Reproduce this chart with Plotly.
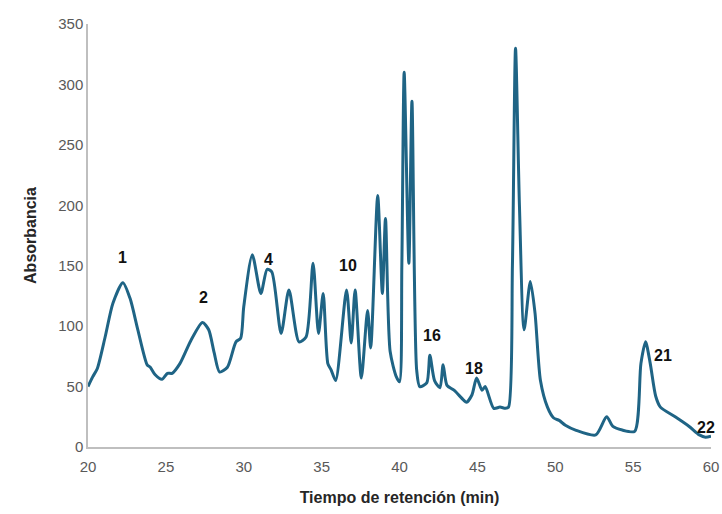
import plotly.graph_objects as go

# Retention time (min) and absorbance
tiempo = [20.0, 20.3, 20.6, 21.1, 21.6, 22.24, 22.7, 23.2, 23.8, 24.0, 24.3, 24.75,
          25.1, 25.4, 25.9, 26.6, 27.35, 27.75, 28.1, 28.45, 28.95, 29.5, 29.8, 30.0,
          30.55, 31.1, 31.5, 31.8, 32.4, 32.9, 33.55, 34.0, 34.45, 34.8, 35.1, 35.4,
          35.6, 35.9, 36.6, 36.9, 37.15, 37.55, 37.95, 38.15, 38.6, 38.9, 39.1, 39.4,
          39.8, 40.0, 40.15, 40.3, 40.6, 40.8, 41.1, 41.3, 41.75, 41.95, 42.25, 42.6,
          42.8, 43.05, 43.5, 44.1, 44.3, 44.65, 44.95, 45.3, 45.5, 46.05, 46.45, 46.8,
          47.0, 47.25, 47.45, 47.7, 48.0, 48.4, 48.7, 49.05, 49.5, 49.9, 50.25, 50.65,
          51.3, 52.6, 53.3, 53.7, 54.3, 55.1, 55.5, 55.8, 56.1, 56.45, 56.75, 57.7,
          58.6, 59.25, 59.65, 60.0]
absorbancia = [50, 58, 65, 91, 119, 136, 123, 97, 68, 66, 60, 56,
               61, 61, 69, 88, 103, 97, 78, 62, 66, 87, 90, 116,
               159, 127, 147, 145, 94, 130, 87, 91, 152, 94, 127, 69,
               64, 55, 130, 86, 130, 57, 113, 82, 208, 127, 189, 79,
               58, 54, 150, 310, 152, 286, 64, 50, 53, 76, 55, 49,
               68, 51, 47, 39, 37, 43, 57, 47, 50, 32, 33, 32,
               33, 150, 330, 200, 97, 137, 111, 55, 33, 24, 22, 18,
               14, 10, 25, 17, 14, 13, 69, 87, 69, 42, 33, 25,
               17, 10, 8, 9]

# Peak labels
pico_etiquetas = ["1", "2", "4", "10", "16", "18", "21", "22"]
pico_x = [22.2, 27.4, 31.6, 36.7, 42.1, 44.8, 56.9, 59.7]
pico_y = [157, 124, 155, 150, 92, 65, 76, 16]

fig = go.Figure()
fig.add_trace(go.Scatter(
    x=tiempo, y=absorbancia, mode="lines",
    line=dict(color="#1f6485", width=3, shape="spline", smoothing=0.7),
    showlegend=False, hoverinfo="skip"))

for t, px, py in zip(pico_etiquetas, pico_x, pico_y):
    fig.add_annotation(x=px, y=py, text="<b>%s</b>" % t, showarrow=False,
                       font=dict(family="Liberation Sans, Arial", size=16, color="#111111"))

fig.update_layout(
    width=722, height=514,
    margin=dict(l=88, r=11, t=24, b=67),
    paper_bgcolor="white", plot_bgcolor="white",
    font=dict(family="Liberation Sans, Arial", color="#595959"),
)
fig.update_xaxes(
    range=[20, 60], tickmode="array", tickvals=[20, 25, 30, 35, 40, 45, 50, 55, 60],
    showgrid=False, zeroline=False, showline=True, linecolor="#bfbfbf", linewidth=1.5,
    ticks="", tickfont=dict(size=15, color="#595959"), ticklabelstandoff=5,
    automargin=False, ticklabeloverflow="allow",
    title=dict(text="<b>Tiempo de retención (min)</b>", font=dict(size=16, color="#262626"), standoff=18),
)
fig.update_yaxes(
    range=[0, 350], tickmode="array", tickvals=[0, 50, 100, 150, 200, 250, 300, 350],
    showgrid=False, zeroline=False, showline=True, linecolor="#bfbfbf", linewidth=1.5,
    ticks="", tickfont=dict(size=15, color="#595959"), automargin=False,
    title=dict(text="<b>Absorbancia</b>", font=dict(size=16, color="#262626"), standoff=18),
)

fig.write_html("out.html")
